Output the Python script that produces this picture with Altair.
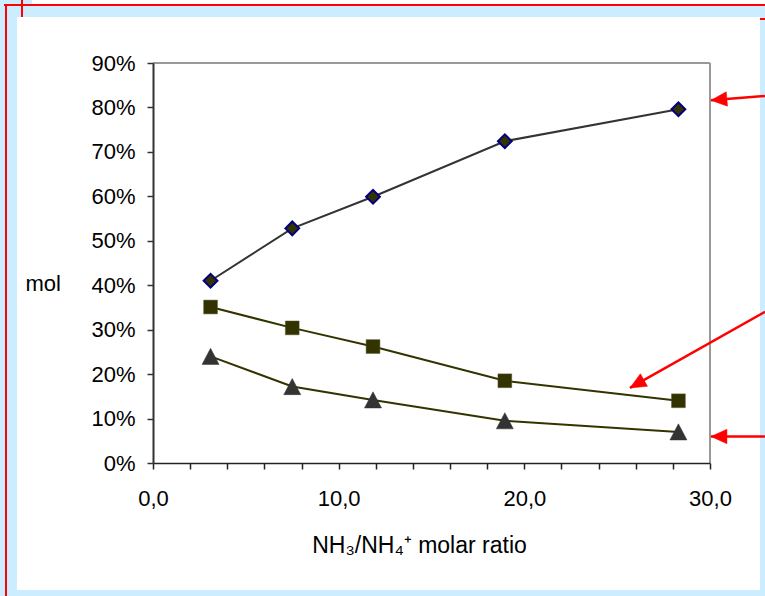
import altair as alt
import pandas as pd

# ---- data ----
ratio = [3.1, 7.5, 11.85, 18.95, 28.3]
diamond_vals = [0.410, 0.528, 0.599, 0.724, 0.796]
square_vals = [0.351, 0.304, 0.262, 0.185, 0.140]
triangle_vals = [0.240, 0.172, 0.142, 0.095, 0.070]
series_names = ["diamond", "square", "triangle"]

x_tick_values = list(range(0, 31, 2))
y_tick_values = [0.0, 0.1, 0.2, 0.3, 0.4, 0.5, 0.6, 0.7, 0.8, 0.9]

# annotation arrows (data units)
arrow_tail_x = [32.96, 32.96, 32.96]
arrow_tail_y = [0.826, 0.340, 0.0596]
arrow_tip_x = [30.05, 25.69, 30.05]
arrow_tip_y = [0.816, 0.169, 0.0596]
arrow_angle = [355.2, 330.6, 0.0]

df = pd.DataFrame({
    "ratio": ratio * 3,
    "value": diamond_vals + square_vals + triangle_vals,
    "series": [series_names[0]] * 5 + [series_names[1]] * 5 + [series_names[2]] * 5,
})
arrows = pd.DataFrame({
    "ratio": arrow_tail_x, "value": arrow_tail_y,
    "ratio2": arrow_tip_x, "value2": arrow_tip_y, "angle": arrow_angle,
})

FONT = "Liberation Sans"
W, H = 557, 400
xs = alt.Scale(domain=[0, 30], nice=False, zero=False)
ys = alt.Scale(domain=[0, 0.9], nice=False)

x_axis = alt.Axis(
    values=x_tick_values,
    labelExpr="datum.value % 10 === 0 ? replace(format(datum.value, '.1f'), '.', ',') : ''",
    title="NH₃/NH₄⁺ molar ratio",
    titleFont=FONT, titleFontSize=23, titleFontWeight="normal", titleColor="black",
    titleX=266, titleY=82, titleAlign="center", titleBaseline="middle",
    labelFont=FONT, labelFontSize=22, labelColor="black", labelPadding=19,
    labelFlush=False, labelOverlap=False,
    tickSize=6, tickColor="#222222", tickWidth=1.5,
    domainColor="#222222", domainWidth=1.5, grid=False, zindex=1)
y_axis = alt.Axis(
    values=y_tick_values, format=".0%",
    title="mol", titleAngle=0, titleAlign="left", titleBaseline="middle",
    titleX=-128, titleY=220,
    titleFont=FONT, titleFontSize=22, titleFontWeight="normal", titleColor="black",
    labelFont=FONT, labelFontSize=22, labelColor="black", labelPadding=12,
    tickSize=6, tickColor="#333333", tickWidth=1.5,
    domainColor="#333333", domainWidth=2, grid=False, zindex=1)

X = alt.X("ratio:Q", scale=xs, axis=x_axis)
Y = alt.Y("value:Q", scale=ys, axis=y_axis)

one = alt.Data(values=[{}])

panel = alt.Chart(one).mark_rect(color="white").encode(
    x=alt.value(-136), x2=alt.value(607), y=alt.value(-46), y2=alt.value(527))
top_strip = alt.Chart(one).mark_rect(color="white").encode(
    x=alt.value(-121), x2=alt.value(612), y=alt.value(-63), y2=alt.value(-59))
red_h = alt.Chart(one).mark_rule(color="red", strokeWidth=2).encode(
    x=alt.value(-149), x2=alt.value(612), y=alt.value(-58))
red_v = alt.Chart(one).mark_rule(color="red", strokeWidth=2).encode(
    x=alt.value(-147), y=alt.value(-59), y2=alt.value(533))
red_v2 = alt.Chart(one).mark_rule(color="red", strokeWidth=2).encode(
    x=alt.value(-131), y=alt.value(-63), y2=alt.value(-46))
red_h2 = alt.Chart(one).mark_rule(color="red", strokeWidth=2).encode(
    x=alt.value(607), x2=alt.value(612), y=alt.value(-44))

base = alt.Chart(df)

frame_top = base.mark_rule(color="#999999", strokeWidth=2).encode(
    x=alt.value(0), x2=alt.value(W), y=alt.value(0))
frame_right = base.mark_rule(color="#999999", strokeWidth=2).encode(
    x=alt.value(W), y=alt.value(0), y2=alt.value(H))

lines = base.mark_line(strokeWidth=2).encode(
    x=X, y=Y,
    color=alt.Color("series:N", scale=alt.Scale(domain=series_names,
                    range=["#333333", "#333300", "#333300"]), legend=None),
    detail="series:N",
)

pts_d = base.transform_filter(alt.datum.series == "diamond").mark_point(
    shape="diamond", fill="#333300", stroke="#000080", strokeWidth=2,
    size=190, opacity=1, fillOpacity=1).encode(x=X, y=Y)
pts_s = base.transform_filter(alt.datum.series == "square").mark_point(
    shape="square", fill="#333300", stroke="#555533", strokeWidth=0.5,
    size=190, opacity=1, fillOpacity=1).encode(x=X, y=Y)
pts_t = base.transform_filter(alt.datum.series == "triangle").mark_point(
    shape="M0,-0.95L1,0.95L-1,0.95Z", fill="#333333", stroke="#333333", strokeWidth=0.5,
    size=289, opacity=1, fillOpacity=1).encode(x=X, y=Y)

arrow_lines = alt.Chart(arrows).mark_rule(color="red", strokeWidth=2.5, clip=False).encode(
    x=X, y=Y, x2="ratio2:Q", y2="value2:Q")
arrow_heads = alt.Chart(arrows).mark_point(
    shape="M0,0L1,-0.45L1,0.45Z", fill="red", stroke="red", strokeWidth=0.5,
    size=1024, opacity=1, fillOpacity=1, clip=False).encode(
    x=alt.X("ratio2:Q", scale=xs, axis=x_axis), y=alt.Y("value2:Q", scale=ys, axis=y_axis),
    angle=alt.Angle("angle:Q", scale=None))

chart = alt.layer(
    panel, top_strip, red_h, red_v, red_v2, red_h2,
    frame_top, frame_right, lines, pts_d, pts_s, pts_t, arrow_lines, arrow_heads,
).properties(
    width=W, height=H,
    autosize=alt.AutoSizeParams(type="none"),
    padding={"left": 153, "top": 63, "right": 55, "bottom": 133},
    background="#CCECFF",
).configure_view(stroke=None)

chart.save("out.html", embed_options={"renderer": "svg", "actions": False})
